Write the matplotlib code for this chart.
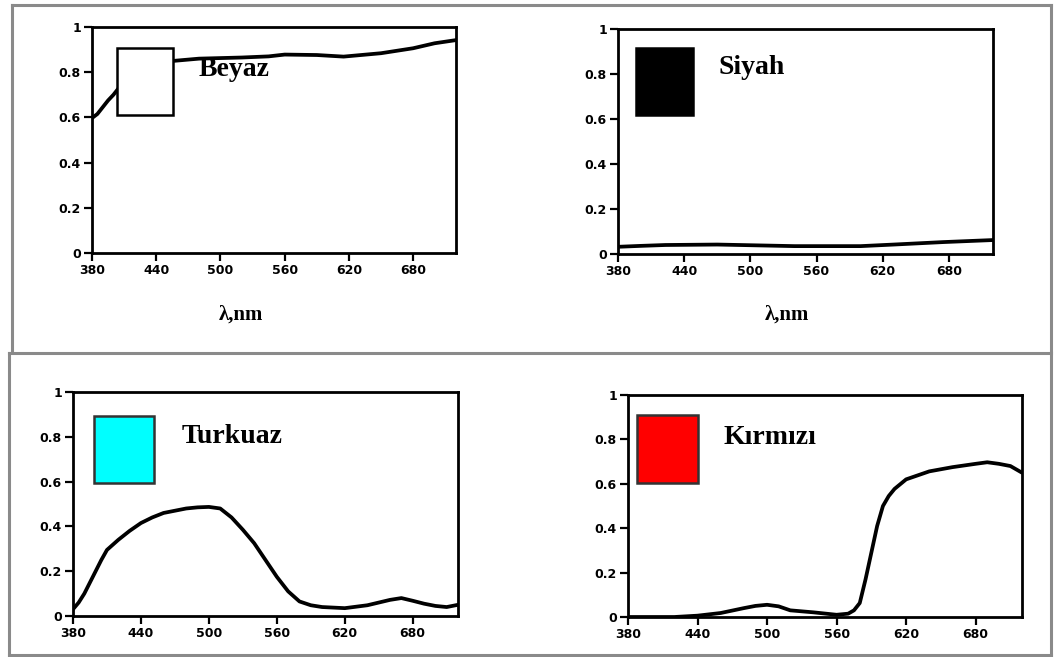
import numpy as np
import matplotlib
matplotlib.use("Agg")
import matplotlib.pyplot as plt
from matplotlib.patches import Rectangle
from matplotlib.lines import Line2D

W, H = 1054, 657

# reflectance spectra
wl_white = [380, 385, 390, 395, 400, 405, 410, 420, 440, 456, 480, 520, 545, 560,
            590, 615, 650, 680, 700, 720]
r_white = [0.597, 0.615, 0.645, 0.675, 0.70, 0.73, 0.75, 0.79, 0.83, 0.85, 0.86,
           0.865, 0.87, 0.878, 0.876, 0.869, 0.884, 0.906, 0.928, 0.942]

wl_black = [380, 400, 423, 470, 540, 600, 630, 675, 720]
r_black = [0.032, 0.036, 0.04, 0.042, 0.035, 0.035, 0.042, 0.053, 0.062]

wl_cyan = [380, 385, 390, 395, 400, 405, 410, 420, 430, 440, 450, 460, 470, 480,
           490, 500, 510, 520, 530, 540, 550, 560, 570, 580, 590, 600, 620, 640,
           660, 670, 680, 690, 700, 710, 720]
r_cyan = [0.03, 0.06, 0.10, 0.15, 0.20, 0.25, 0.295, 0.34, 0.38, 0.415, 0.44,
          0.46, 0.47, 0.48, 0.485, 0.487, 0.48, 0.44, 0.385, 0.325, 0.25, 0.175,
          0.11, 0.065, 0.048, 0.04, 0.035, 0.048, 0.072, 0.08, 0.068, 0.055,
          0.045, 0.04, 0.05]

wl_red = [380, 420, 440, 460, 480, 490, 500, 510, 520, 540, 560, 570, 575, 580,
          585, 590, 595, 600, 605, 610, 620, 640, 660, 680, 690, 700, 710, 720]
r_red = [0.0, 0.0, 0.006, 0.018, 0.04, 0.05, 0.055, 0.048, 0.03, 0.021, 0.01,
         0.015, 0.03, 0.063, 0.17, 0.29, 0.41, 0.50, 0.545, 0.577, 0.62, 0.656,
         0.675, 0.69, 0.697, 0.69, 0.68, 0.65]

x_ticks = [380, 440, 500, 560, 620, 680]
y_ticks = [0, 0.2, 0.4, 0.6, 0.8, 1]
y_tick_labels = ["0", "0.2", "0.4", "0.6", "0.8", "1"]

names = ["Beyaz", "Siyah", "Turkuaz", "Kırmızı"]
swatch_colors = ["white", "black", "#00ffff", "#ff0000"]

# axes boxes in pixels: left, right, top, bottom
boxes = [(92, 456, 27, 253), (618, 993, 29, 254),
         (73, 458, 392, 616), (628, 1022, 395, 617)]
# swatch (x0, x1, y0, y1) in data units, label (x, y)
swatches = [(403.5, 456, 0.61, 0.907), (396, 448, 0.62, 0.915),
            (398.7, 451.4, 0.594, 0.893), (387.8, 440.5, 0.604, 0.91)]
label_pos = [(480, 0.81), (471.5, 0.83), (475.5, 0.80), (462, 0.81)]

series = [(wl_white, r_white), (wl_black, r_black),
          (wl_cyan, r_cyan), (wl_red, r_red)]

fig = plt.figure(figsize=(W / 100, H / 100), dpi=100)
fig.patch.set_facecolor("white")


def fx(px):
    return px / W


def fy(py):
    return 1 - py / H


# grey frames around the two rows
grey = "#8a8a8a"
frame_lines = [
    ((12, 1051), (5, 5)), ((12, 12), (5, 350)), ((1051, 1051), (5, 350)),
    ((9, 1051), (353, 353)), ((9, 9), (353, 655)), ((1051, 1051), (353, 655)),
    ((9, 1051), (655, 655)),
]
for xs, ys in frame_lines:
    fig.add_artist(Line2D([fx(x) for x in xs], [fy(y) for y in ys],
                          color=grey, lw=2.2, solid_capstyle="projecting"))

for i, (l, r, t, b) in enumerate(boxes):
    ax = fig.add_axes([fx(l), fy(b), (r - l) / W, (b - t) / H])
    wl, refl = series[i]
    ax.plot(wl, refl, color="black", lw=2.7, solid_joinstyle="round",
            solid_capstyle="round", zorder=2)
    x0, x1, y0, y1 = swatches[i]
    ec = "black" if i < 2 else "#333333"
    ax.add_patch(Rectangle((x0, y0), x1 - x0, y1 - y0, facecolor=swatch_colors[i],
                           edgecolor=ec, lw=1.8, zorder=3))
    tx, ty = label_pos[i]
    ax.text(tx, ty, names[i], family="Liberation Serif", fontweight="bold",
            fontsize=20, va="center", ha="left", zorder=4)
    ax.set_xlim(380, 720)
    ax.set_ylim(0, 1)
    ax.set_xticks(x_ticks)
    ax.set_xticklabels([str(v) for v in x_ticks])
    ax.set_yticks(y_ticks)
    ax.set_yticklabels(y_tick_labels)
    for s in ax.spines.values():
        s.set_linewidth(2.0)
    ax.tick_params(direction="out", length=6, width=1.6, pad=2,
                   labelsize=9)
    for lab in ax.get_xticklabels() + ax.get_yticklabels():
        lab.set_fontweight("bold")

for x in (241, 787):
    fig.text(fx(x), fy(315), "λ,nm", family="Liberation Serif",
             fontweight="bold", fontsize=15, ha="center", va="center")

fig.savefig("out.png", dpi=100)
